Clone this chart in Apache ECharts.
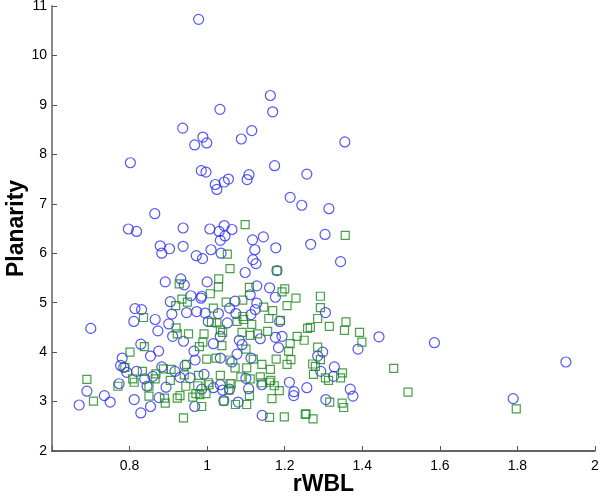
<!DOCTYPE html>
<html><head><meta charset="utf-8">
<script src="https://cdn.jsdelivr.net/npm/echarts@6/dist/echarts.min.js"></script>
<style>html,body{margin:0;padding:0;background:#fff;width:600px;height:496px;overflow:hidden}#c{width:600px;height:496px}</style>
</head><body><div id="c"></div>
<script>
const xTicks = [0.8, 1, 1.2, 1.4, 1.6, 1.8, 2];
const yTicks = [2, 3, 4, 5, 6, 7, 8, 9, 10, 11];
const xName = 'rWBL';
const yName = 'Planarity';

// blue circles: [rWBL, Planarity]
const circles = [
[0.978,10.73],[1.163,9.19],[1.169,8.86],[1.033,8.91],[0.937,8.53],[0.989,8.35],[0.968,8.19],[0.999,8.23],[1.088,8.31],[1.115,8.48],[1.355,8.25],
[0.802,7.83],[0.985,7.67],[0.997,7.64],[1.021,7.39],[1.025,7.29],[1.044,7.44],[1.055,7.50],[1.108,7.59],[1.103,7.49],[1.174,7.77],[1.257,7.60],[1.214,7.13],[1.244,6.97],[1.314,6.90],[0.865,6.80],[0.797,6.49],[0.818,6.44],[0.938,6.51],[1.007,6.49],[1.031,6.44],[1.044,6.56],[1.064,6.48],[1.046,6.35],[1.034,6.26],[1.304,6.38],[1.117,6.27],[1.145,6.33],[1.267,6.18],[1.177,6.11],[1.123,6.07],[0.879,6.15],[0.883,6.00],[0.903,6.09],[0.938,6.14],[1.010,6.07],[1.036,6.00],[0.972,5.95],[0.988,5.89],[1.118,5.87],[1.126,5.79],[1.344,5.83],[1.180,5.65],[1.098,5.61],[0.892,5.42],[0.932,5.48],[1.000,5.42],[0.941,5.36],[1.128,5.34],[1.161,5.30],
[0.986,5.13],[0.905,5.02],
[0.700,4.48],[0.814,4.88],[0.831,4.86],[0.811,4.62],[0.866,4.66],[0.873,4.43],[0.909,4.77],[0.901,4.57],[0.911,4.32],[0.829,4.16],[0.875,4.02],[0.854,3.92],[0.781,3.88],[0.777,3.73],[0.785,3.69],[0.793,3.59],[0.818,3.61],[0.839,3.46],[0.845,3.31],[0.860,3.51],[0.883,3.70],[0.894,3.29],[0.917,3.61],[0.930,3.49],[0.690,3.21],[0.670,2.93],[0.735,3.12],[0.750,2.99],[0.773,3.36],[0.812,3.04],[0.829,2.77],[0.854,2.90],[0.876,3.08],
[0.968,2.90],[1.034,3.34],[1.040,3.23],[1.043,3.02],[1.080,2.99],[1.100,3.47],[1.142,2.72],[1.212,3.39],[1.224,3.20],[1.223,3.12],
[0.958,5.14],[0.984,5.09],[0.947,4.80],[0.973,4.82],[0.995,4.79],[1.029,4.78],[1.072,5.03],[1.058,4.89],[1.074,4.78],[1.111,5.16],[1.128,4.99],[1.124,4.86],[1.113,4.76],[1.176,5.11],[1.187,4.62],[1.003,4.62],[1.052,4.59],[1.034,4.32],[1.083,4.24],[0.939,4.22],[0.966,4.02],[1.016,4.17],[1.090,4.15],[1.137,4.27],[1.176,4.30],[1.184,4.09],[1.077,3.96],[1.034,3.88],[1.064,3.80],[0.969,3.84],[0.943,3.73],[0.992,3.55],[1.058,3.25],[1.016,3.28],[0.986,3.25],[0.956,3.48],[1.141,3.34],[1.107,3.26],[1.113,3.88],[1.193,4.32],[1.257,3.28],
[1.305,4.80],[1.443,4.31],[1.389,4.06],[1.298,4.00],[1.285,3.92],[1.328,3.70],[1.326,3.51],[1.293,3.61],[1.369,3.25],[1.376,3.11],[1.306,3.04],
[1.586,4.19],[1.925,3.80],[1.789,3.06]
];

// green squares: [rWBL, Planarity]
const squares = [
[1.098,6.58],[1.356,6.36],[1.052,5.98],[1.059,5.69],[1.180,5.65],[1.030,5.48],[0.928,5.38],[1.109,5.31],[1.200,5.28],
[1.193,5.22],[1.029,5.32],[1.008,5.18],[0.935,5.07],
[0.836,4.70],[0.919,4.94],[0.920,4.49],[0.923,4.37],[0.838,4.11],[0.801,4.00],[0.788,3.69],[0.833,3.61],[0.812,3.39],[0.808,3.46],[0.850,3.31],[0.868,3.56],[0.866,3.46],[0.887,3.66],[0.907,3.65],[0.905,3.43],[0.941,3.54],[0.690,3.45],[0.707,3.01],[0.770,3.31],[0.850,3.11],[0.892,2.97],[0.890,3.07],[0.923,3.07],[0.939,2.67],
[0.930,3.12],[0.945,3.31],[0.976,3.32],[0.971,3.16],[0.963,3.09],[0.981,3.14],[0.997,3.16],[1.005,3.34],[0.986,2.90],[1.056,3.23],[1.062,3.36],[1.043,3.01],[1.073,2.94],[1.102,2.94],[1.109,3.12],[1.161,2.68],[1.199,2.69],[1.167,3.06],[1.186,3.22],[1.173,3.32],[1.161,3.39],[1.141,3.38],
[0.949,5.01],[1.016,4.89],[1.049,5.01],[1.092,5.05],[1.092,4.72],[1.146,4.91],[1.169,4.84],[1.159,4.68],[1.189,4.64],[1.206,4.94],[1.229,5.09],[1.011,4.60],[1.025,4.59],[1.034,4.45],[1.077,4.62],[1.094,4.66],[1.115,4.56],[1.156,4.42],[1.130,4.37],[1.111,4.34],[1.090,4.40],[1.040,4.40],[0.992,4.37],[0.952,4.37],[0.980,4.11],[0.989,4.20],[1.038,4.13],[1.100,4.06],[0.947,3.75],[0.999,3.86],[1.023,3.88],[1.059,3.84],[1.072,3.68],[1.102,3.68],[1.119,3.86],[1.141,3.75],[1.163,3.65],[1.164,3.43],[1.137,3.50],[1.111,3.46],[1.087,3.50],[1.059,3.36],[1.034,3.53],[1.003,3.38],[0.978,3.53],
[1.206,3.75],[1.178,3.86],[1.210,4.02],[1.232,4.32],[1.250,4.24],[1.214,4.17],[1.253,2.74],[1.216,3.85],
[1.292,5.13],[1.292,4.90],[1.285,4.68],[1.266,4.50],[1.259,4.48],[1.315,4.52],[1.358,4.61],[1.354,4.44],[1.393,4.40],[1.399,4.20],[1.285,4.10],[1.292,3.85],[1.272,3.76],[1.279,3.71],[1.274,3.55],[1.305,3.48],[1.313,3.43],[1.344,3.48],[1.349,3.58],[1.481,3.67],[1.518,3.19],[1.316,2.99],[1.348,2.97],[1.352,2.88],[1.255,2.75],[1.273,2.65],
[1.797,2.85]
];

const chart = echarts.init(document.getElementById('c'), null, {renderer: 'canvas', width: 600, height: 496});
const labelFont = {fontFamily: 'Liberation Sans, Arial, sans-serif', fontSize: 14, color: '#000'};
const nameFont = {fontFamily: 'Liberation Sans, Arial, sans-serif', fontSize: 23, fontWeight: 'bold', color: '#000'};
const showX = v => xTicks.some(t => Math.abs(t - v) < 1e-6);
chart.setOption({
  animation: false,
  backgroundColor: '#fff',
  grid: {left: 52, right: 5, top: 6, bottom: 45, containLabel: false, outerBoundsMode: 'none'},
  xAxis: {
    type: 'value', min: 0.6, max: 2, interval: 0.2,
    name: xName, nameLocation: 'middle', nameGap: 22, nameMoveOverlap: false,
    nameTextStyle: nameFont,
    axisLine: {show: true, onZero: false, lineStyle: {color: '#333', width: 1.5}},
    axisTick: {show: true, inside: true, length: 5, lineStyle: {color: '#555'}},
    axisLabel: Object.assign({margin: 8, formatter: v => showX(v) ? String(+v.toFixed(1)) : ''}, labelFont),
    splitLine: {show: false}
  },
  yAxis: {
    type: 'value', min: 2, max: 11, interval: 1,
    name: yName, nameLocation: 'middle', nameGap: 24, nameRotate: 90, nameMoveOverlap: false,
    nameTextStyle: nameFont,
    axisLine: {show: true, onZero: false, lineStyle: {color: '#888', width: 2}},
    axisTick: {show: true, inside: true, length: 5, lineStyle: {color: '#555'}},
    axisLabel: Object.assign({margin: 5, formatter: v => yTicks.includes(v) ? String(v) : ''}, labelFont),
    splitLine: {show: false}
  },
  series: [
    {type: 'scatter', data: circles, symbol: 'circle', symbolSize: 10,
     itemStyle: {color: 'rgba(0,0,0,0)', borderColor: '#2a2aff', borderWidth: 1.2}},
    {type: 'scatter', data: squares, symbol: 'rect', symbolSize: 8,
     itemStyle: {color: 'rgba(0,0,0,0)', borderColor: '#1a8a1a', borderWidth: 1.2}}
  ]
});
</script></body></html>
